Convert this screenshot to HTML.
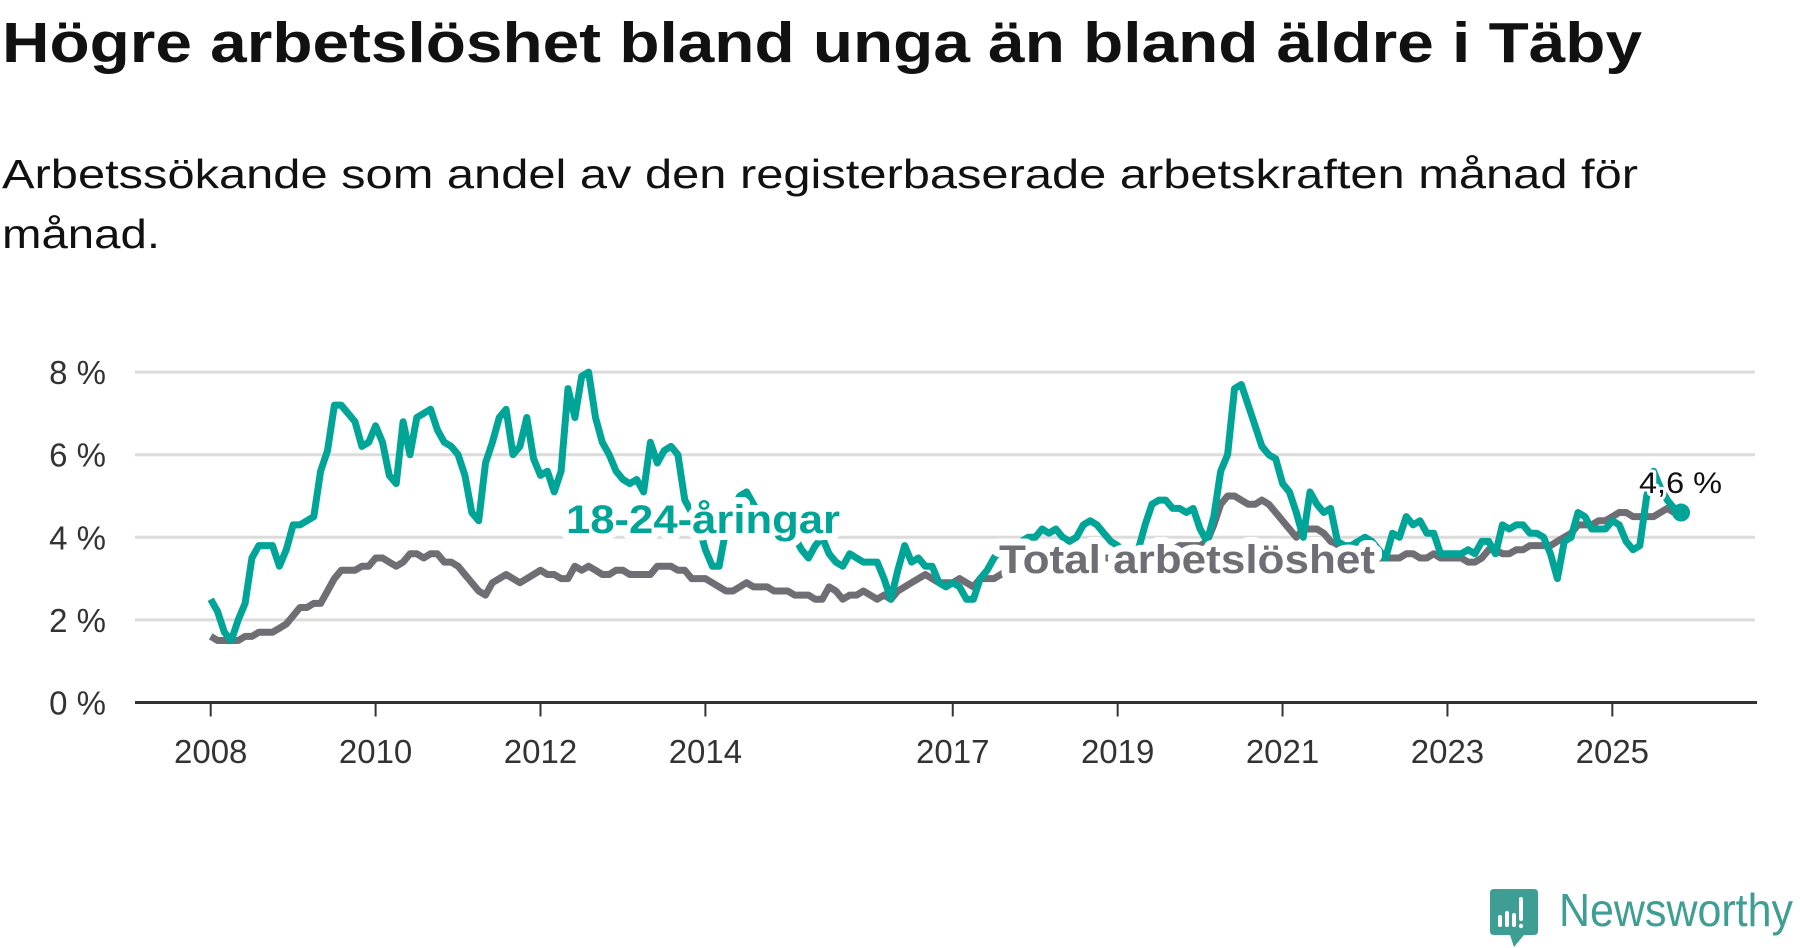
<!DOCTYPE html>
<html><head><meta charset="utf-8"><style>
html,body{margin:0;padding:0;background:#fff;}
svg{display:block;font-family:"Liberation Sans",sans-serif;}
</style></head><body>
<svg id="chart" width="1800" height="948" viewBox="0 0 1800 948" xmlns="http://www.w3.org/2000/svg">
<text x="2" y="62" font-size="57" font-weight="bold" fill="#111" textLength="1640" lengthAdjust="spacingAndGlyphs">Högre arbetslöshet bland unga än bland äldre i Täby</text>
<text x="2" y="188" font-size="41" fill="#111" textLength="1636" lengthAdjust="spacingAndGlyphs">Arbetssökande som andel av den registerbaserade arbetskraften månad för</text>
<text x="2" y="248" font-size="41" fill="#111" textLength="158" lengthAdjust="spacingAndGlyphs">månad.</text>
<g id="grid"></g>
<g id="xaxis"></g>
<g id="series"></g>
<g id="labels"></g>
<g>
<path d="M1494 889 H1534 Q1538 889 1538 893 V931 Q1538 935 1534 935 H1524 L1514 947 L1510 935 H1494 Q1490 935 1490 931 V893 Q1490 889 1494 889 Z" fill="#3e9e94"/>
<g fill="#fff">
<rect x="1498" y="915" width="4" height="12" rx="2"/>
<rect x="1505" y="911" width="4" height="16" rx="2"/>
<rect x="1512" y="913" width="4" height="14" rx="2"/>
<rect x="1519" y="897" width="4" height="24" rx="2"/>
<circle cx="1521" cy="926" r="2.2"/>
</g>
<text x="1559" y="926" font-size="46" fill="#3e9e94" textLength="234" lengthAdjust="spacingAndGlyphs">Newsworthy</text>
</g>
</svg>
<script>
const yTicks = [0, 2, 4, 6, 8];
const yTickLabels = ["0 %", "2 %", "4 %", "6 %", "8 %"];
const xTickYears = [2008, 2010, 2012, 2014, 2017, 2019, 2021, 2023, 2025];
const startYear = 2008;
const youth = [
2.5,2.2,1.7,1.5,2.0,2.4,3.5,3.8,3.8,3.8,3.3,3.7,
4.3,4.3,4.4,4.5,5.6,6.1,7.2,7.2,7.0,6.8,6.2,6.3,
6.7,6.3,5.5,5.3,6.8,6.0,6.9,7.0,7.1,6.6,6.3,6.2,
6.0,5.5,4.6,4.4,5.8,6.3,6.9,7.1,6.0,6.2,6.9,5.9,
5.5,5.6,5.1,5.6,7.6,6.9,7.9,8.0,6.9,6.3,6.0,5.6,
5.4,5.3,5.4,5.1,6.3,5.8,6.1,6.2,6.0,4.9,4.6,4.3,
3.7,3.3,3.3,4.2,4.7,5.0,5.1,4.8,4.5,4.2,4.2,4.0,
4.2,4.0,3.7,3.5,3.8,4.0,3.6,3.4,3.3,3.6,3.5,3.4,
3.4,3.4,3.0,2.5,3.2,3.8,3.4,3.5,3.3,3.3,2.9,2.8,
2.9,2.8,2.5,2.5,3.0,3.2,3.5,3.7,3.8,3.8,3.9,4.0,
4.0,4.2,4.1,4.2,4.0,3.9,4.0,4.3,4.4,4.3,4.1,3.9,
3.8,3.6,3.5,3.7,4.3,4.8,4.9,4.9,4.7,4.7,4.6,4.7,
4.2,3.9,4.5,5.6,6.0,7.6,7.7,7.2,6.7,6.2,6.0,5.9,
5.3,5.1,4.6,4.0,5.1,4.8,4.6,4.7,3.9,3.8,3.8,3.9,
4.0,3.9,3.7,3.5,4.1,4.0,4.5,4.3,4.4,4.1,4.1,3.6,
3.6,3.6,3.6,3.7,3.6,3.9,3.9,3.6,4.3,4.2,4.3,4.3,
4.1,4.1,4.0,3.6,3.0,3.9,4.0,4.6,4.5,4.2,4.2,4.2,
4.4,4.3,3.9,3.7,3.8,5.0,5.6,5.2,4.9,4.7,4.6];
const total = [
1.6,1.5,1.5,1.5,1.5,1.6,1.6,1.7,1.7,1.7,1.8,1.9,
2.1,2.3,2.3,2.4,2.4,2.7,3.0,3.2,3.2,3.2,3.3,3.3,
3.5,3.5,3.4,3.3,3.4,3.6,3.6,3.5,3.6,3.6,3.4,3.4,
3.3,3.1,2.9,2.7,2.6,2.9,3.0,3.1,3.0,2.9,3.0,3.1,
3.2,3.1,3.1,3.0,3.0,3.3,3.2,3.3,3.2,3.1,3.1,3.2,
3.2,3.1,3.1,3.1,3.1,3.3,3.3,3.3,3.2,3.2,3.0,3.0,
3.0,2.9,2.8,2.7,2.7,2.8,2.9,2.8,2.8,2.8,2.7,2.7,
2.7,2.6,2.6,2.6,2.5,2.5,2.8,2.7,2.5,2.6,2.6,2.7,
2.6,2.5,2.6,2.5,2.7,2.8,2.9,3.0,3.1,3.0,2.9,2.9,
2.9,3.0,2.9,2.8,3.0,3.0,3.0,3.1,3.2,3.1,3.2,3.2,
3.2,3.3,3.3,3.4,3.4,3.4,3.4,3.4,3.5,3.5,3.5,3.5,
3.5,3.5,3.5,3.5,3.6,3.6,3.7,3.7,3.7,3.8,3.8,3.8,
3.8,3.9,4.3,4.8,5.0,5.0,4.9,4.8,4.8,4.9,4.8,4.6,
4.4,4.2,4.0,4.2,4.2,4.2,4.1,3.9,3.8,3.7,3.6,3.6,
3.6,3.5,3.5,3.5,3.5,3.5,3.6,3.6,3.5,3.5,3.6,3.5,
3.5,3.5,3.5,3.4,3.4,3.5,3.7,3.7,3.6,3.6,3.7,3.7,
3.8,3.8,3.8,3.8,3.9,4.0,4.1,4.3,4.3,4.3,4.4,4.4,
4.5,4.6,4.6,4.5,4.5,4.5,4.5,4.6,4.7,4.6,4.5];
const lastLabel = "4,6 %";

const NS = "http://www.w3.org/2000/svg";
const x0 = 210.7, pxPerYear = 82.45, y0 = 702.5, pxPerUnit = 41.3;
function xYear(yr){ return x0 + (yr - startYear) * pxPerYear; }
function xIdx(i){ return xYear(startYear + i / 12); }
function yVal(v){ return y0 - v * pxPerUnit; }
function mk(tag, attrs, parent){ const e = document.createElementNS(NS, tag); for (const k in attrs) e.setAttribute(k, attrs[k]); parent.appendChild(e); return e; }

const grid = document.getElementById('grid');
yTicks.forEach((t, i) => {
  if (t > 0) {
    const l = mk('line', {x1: 135, x2: 1755, y1: yVal(t), y2: yVal(t), stroke: '#dcdcdc', 'stroke-width': 3}, grid);
    
    
  }
  const tx = mk('text', {x: 106, y: yVal(t) + 12, 'font-size': 33, fill: '#333', 'text-anchor': 'end'}, grid);
  tx.textContent = yTickLabels[i];
  
  
});
const xa = document.getElementById('xaxis');
const axl = mk('line', {x1: 135, x2: 1757, y1: y0, y2: y0, stroke: '#333', 'stroke-width': 3}, xa);


xTickYears.forEach(yr => {
  const t = mk('line', {x1: xYear(yr), x2: xYear(yr), y1: y0, y2: y0 + 14, stroke: '#333', 'stroke-width': 2}, xa);
  
  
  const tx = mk('text', {x: xYear(yr), y: 763, 'font-size': 33, fill: '#333', 'text-anchor': 'middle'}, xa);
  tx.textContent = yr;
  
  
});
const sg = document.getElementById('series');
function pathOf(arr){ return arr.map((v, i) => (i ? 'L' : 'M') + xIdx(i).toFixed(1) + ' ' + yVal(v).toFixed(1)).join(' '); }
const pt = mk('path', {d: pathOf(total), fill: 'none', stroke: '#6f6e74', 'stroke-width': 7, 'stroke-linejoin': 'round'}, sg);


const py = mk('path', {d: pathOf(youth), fill: 'none', stroke: '#00a598', 'stroke-width': 7, 'stroke-linejoin': 'round'}, sg);


const li = youth.length - 1;
const dot = mk('circle', {cx: xIdx(li), cy: yVal(youth[li]), r: 9, fill: '#00a598'}, sg);



const lg = document.getElementById('labels');
const halo = {stroke: '#fff', 'stroke-width': 14, 'stroke-linejoin': 'round', 'paint-order': 'stroke'};
const l1 = mk('text', Object.assign({x: 566, y: 533, 'font-size': 40, 'font-weight': 'bold', fill: '#00a598', textLength: 274, lengthAdjust: 'spacingAndGlyphs'}, halo), lg);
l1.textContent = '18-24-åringar';


const l2 = mk('text', Object.assign({x: 999, y: 573, 'font-size': 40, 'font-weight': 'bold', fill: '#6f6e74', textLength: 376, lengthAdjust: 'spacingAndGlyphs'}, halo), lg);
l2.textContent = 'Total arbetslöshet';


const l3 = mk('text', Object.assign({x: 1639, y: 493, 'font-size': 30, fill: '#111', textLength: 83, lengthAdjust: 'spacingAndGlyphs'}, halo, {'stroke-width': 6}), lg);
l3.textContent = lastLabel;


</script>
</body></html>
